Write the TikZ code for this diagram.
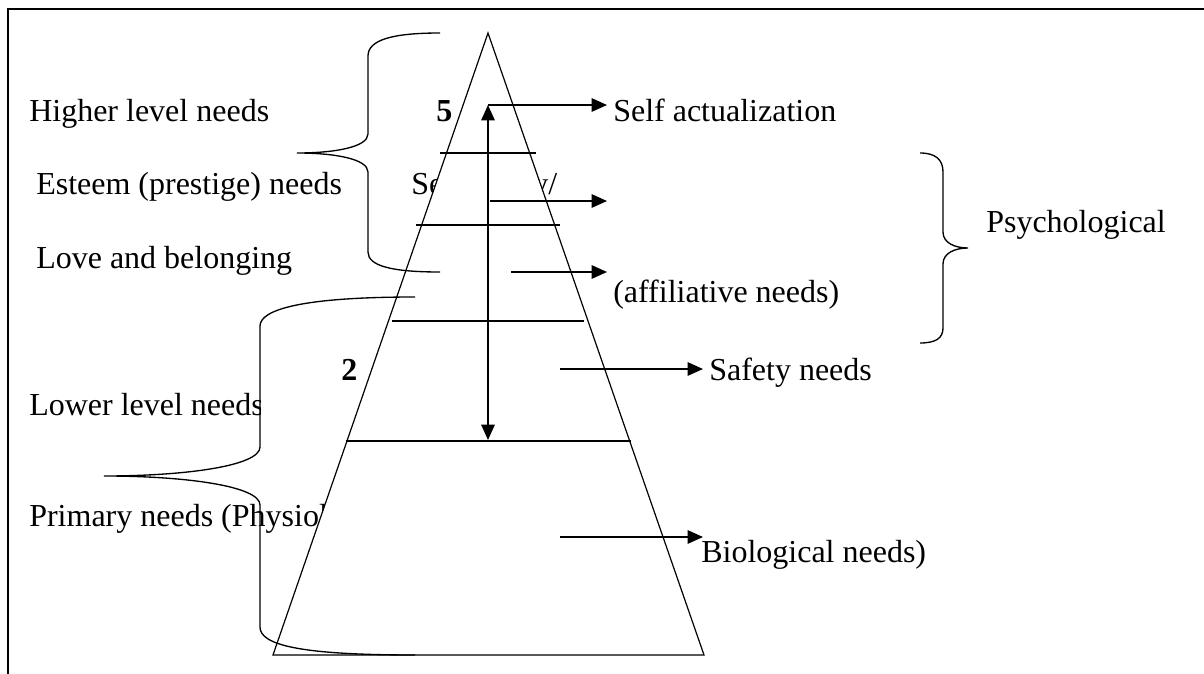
\documentclass[tikz,border=0pt]{standalone}
\usepackage{fontspec}
\setmainfont{Liberation Serif}
\usetikzlibrary{arrows.meta}

\begin{document}
\begin{tikzpicture}[x=0.75pt,y=-0.75pt,>={Triangle[length=11.5pt,width=10pt]},
            txt/.style={anchor=base west,inner sep=0pt,font=\fontsize{24}{28}\selectfont},
            num/.style={anchor=base west,inner sep=0pt,font=\fontsize{24}{28}\selectfont\bfseries},
            level/.style={line width=0.9pt},
            pointer/.style={line width=1.4pt},
            brace/.style={line width=1pt}]
            \useasboundingbox (0,0) rectangle (1204,674);
            % frame
            \draw[line width=2pt] (8,674) -- (8,9) -- (1204,9);

            % texts that the pyramid covers in part
            \node[txt] (se) at (411,195) {Se};
            \node[txt] (sy) at (532,195) {y/};
            \node[txt] (primary) at (29,526) {Primary needs (Physiol};

            % pyramid
            \coordinate (top) at (488,33);
            \coordinate (bl) at (273,655);
            \coordinate (br) at (704,655);
            \draw[fill=white,line width=0.9pt] (top) -- (bl) -- (br) -- cycle;
            \draw[level] (440,153) -- (536,153);
            \draw[level] (416,225) -- (560,225);
            \draw[level] (392,321) -- (584,321);
            \draw[level] (346,441) -- (631,441);

            % arrows
            \coordinate (up) at (488,105);
            \coordinate (down) at (488,440);
            \coordinate (s1) at (488,105);  \coordinate (e1) at (607,105);
            \coordinate (s2) at (490,201);  \coordinate (e2) at (607,201);
            \coordinate (s3) at (511,272);  \coordinate (e3) at (607,272);
            \coordinate (s4) at (560,369);  \coordinate (e4) at (703,369);
            \coordinate (s5) at (560,537);  \coordinate (e5) at (703,537);
            \draw[pointer,<->] (up) -- (down);
            \path[pointer,->]
                (s1) edge (e1)
                (s2) edge (e2)
                (s3) edge (e3)
                (s4) edge (e4)
                (s5) edge (e5)
            ;

            % labels
            \node[txt] (higher) at (29,122) {Higher level needs};
            \node[num] (n5) at (436,122) {5};
            \node[txt] (selfact) at (613,122) {Self actualization};
            \node[txt] (esteem) at (36,195) {Esteem (prestige) needs};
            \node[txt] (love) at (36,268) {Love and belonging};
            \node[txt] (affil) at (613,302) {(affiliative needs)};
            \node[txt] (psych) at (986,232) {Psychological};
            \node[num] (n2) at (341,380) {2};
            \node[txt] (safety) at (709,380) {Safety needs};
            \node[txt] (bio) at (701,562) {Biological needs)};
            \begin{scope}
                \clip (0,380) rectangle (260,440);
                \node[txt] (lower) at (29,415) {Lower level needs};
            \end{scope}

            % braces
            \draw[brace] (440,33) .. controls (392,33) and (368,40) .. (368,56) -- (368,134)
                .. controls (368,147) and (335,153) .. (297,153)
                .. controls (335,153) and (368,159) .. (368,172) -- (368,252)
                .. controls (368,266) and (392,272) .. (440,272);
            \draw[brace] (415,297) .. controls (300,297) and (260,310) .. (260,326) -- (260,447)
                .. controls (260,466) and (185,476) .. (104,476)
                .. controls (185,476) and (260,486) .. (260,505) -- (260,627)
                .. controls (260,645) and (300,655) .. (415,655);
            \draw[brace] (920,153) .. controls (936,153) and (943,160) .. (943,172) -- (943,232)
                .. controls (943,243) and (955,248) .. (968,248)
                .. controls (955,248) and (943,253) .. (943,264) -- (943,328)
                .. controls (943,338) and (936,343) .. (920,343);
            \end{tikzpicture}
\end{document}
